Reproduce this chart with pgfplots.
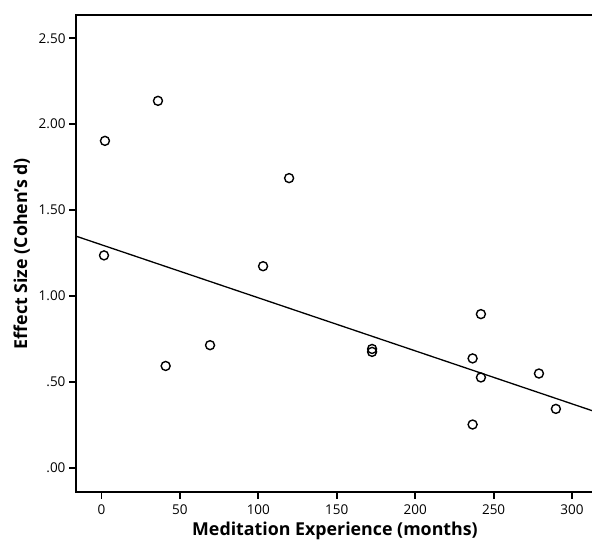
\documentclass[border=0pt]{standalone}
\usepackage{pgfplots}
\pgfplotsset{compat=1.18}
\usepackage{fontspec}
\setmainfont{Open Sans}
\begin{document}
\begin{tikzpicture}
\begin{axis}[
 scale only axis, width=518pt, height=477pt,
 xmin=-16.26, xmax=314, ymin=-0.142, ymax=2.636,
 clip=false,
 xtick={0,50,100,150,200,250,300},
 ytick={0,0.5,1,1.5,2,2.5},
 yticklabels={.00,.50,1.00,1.50,2.00,2.50},
 xtick align=outside, ytick align=outside,
 xtick pos=bottom, ytick pos=left,
 major tick length=7pt,
 axis line style={line width=2pt},
 major tick style={draw=none},
 xlabel={Meditation Experience (months)},
 ylabel={Effect Size (Cohen's d)},
 label style={font=\bfseries\fontsize{17.8}{20}\selectfont},
 xlabel style={yshift=-1pt},
 ylabel style={yshift=2pt},
 tick label style={font=\fontsize{13.5}{16}\selectfont},
 xticklabel style={yshift=-2pt},
 /pgf/number format/assume math mode=true,
]
\coordinate (O) at (rel axis cs:0,0);
\pgfplotsinvokeforeach{0,50,100,150,200,250,300}{
  \addplot[black, line width=1.8pt, forget plot] coordinates {(#1,-0.142) (#1,-0.183)};
}
\pgfplotsinvokeforeach{0,0.5,1,1.5,2,2.5}{
  \addplot[black, line width=1.8pt, forget plot] coordinates {(-16.26,#1) (-20.72,#1)};
}
\addplot[only marks, mark=o, mark size=4.5pt, black, mark options={line width=1.4pt}] coordinates {
(2.2,1.903) (36,2.136) (1.6,1.236) (40.9,0.592) (69.2,0.713) (103,1.173) (119.6,1.686)
(172.5,0.691) (172.5,0.674) (236.6,0.636) (236.6,0.251) (241.9,0.894) (241.9,0.525)
(278.9,0.548) (289.7,0.342)};
\addplot[black, line width=1.3pt] coordinates {(-16.26,1.348) (314,0.328)};
\end{axis}
\pgfresetboundingbox
\path (O) ++(-76pt,-48pt) rectangle ++(592pt,540pt);
\end{tikzpicture}
\end{document}
